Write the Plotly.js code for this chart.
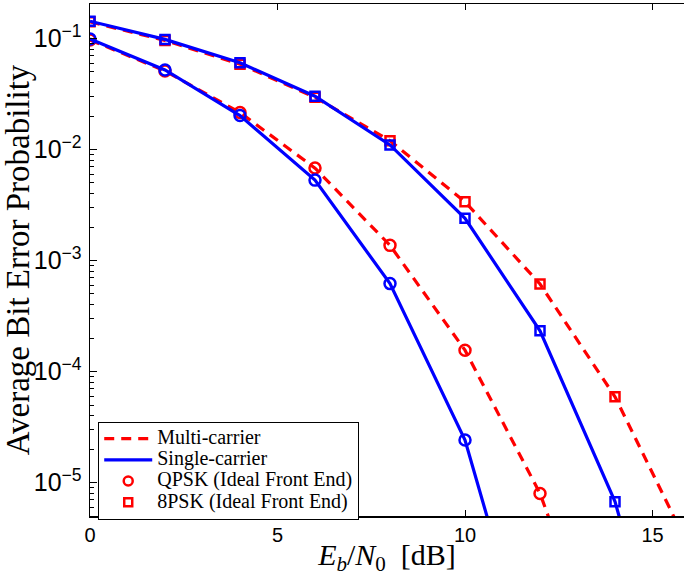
<!DOCTYPE html>
<html>
<head>
<meta charset="utf-8">
<script src="https://cdn.plot.ly/plotly-3.0.1.min.js"></script>
<style>html,body{margin:0;padding:0;background:#fff;}#chart{width:684px;height:576px;}</style>
</head>
<body>
<div id="chart"></div>
<script>
// Eb/N0 in dB
const ebn0 = [0, 2, 4, 6, 8, 10, 12, 14, 16];

// QPSK
const qpskSingle = [0.099, 0.052, 0.0202, 0.0053, 0.00062, 2.42e-5, 1.1e-7];
const qpskMulti  = [0.097, 0.051, 0.0215, 0.0068, 0.00137, 1.56e-4, 8.0e-6, 1.1e-7];
// 8PSK
const psk8Single = [0.143, 0.098, 0.0603, 0.0302, 0.0110, 0.0024, 2.33e-4, 6.75e-6, 2.7e-8];
const psk8Multi  = [0.141, 0.096, 0.0587, 0.0295, 0.0120, 0.00338, 6.15e-4, 5.94e-5, 2.5e-6];

const legendNames = ['Multi-carrier', 'Single-carrier', 'QPSK (Ideal Front End)', '8PSK (Ideal Front End)'];

const RED = '#ff0000', BLUE = '#0000ff';
const lw = 3.2;
const redDash = '10px,7px';
const serif = 'Liberation Serif';

function xs(arr){ return ebn0.slice(0, arr.length); }
function big(t){ return '<span style="font-size:20px">' + t + '</span>'; }

const traces = [
  {x: xs(psk8Multi), y: psk8Multi, mode: 'lines+markers', showlegend: false,
   line: {color: RED, width: lw, dash: redDash},
   marker: {symbol: 'square-open', size: 9, color: RED, line: {width: 2.5, color: RED}}},
  {x: xs(qpskMulti), y: qpskMulti, mode: 'lines+markers', showlegend: false,
   line: {color: RED, width: lw, dash: redDash},
   marker: {symbol: 'circle-open', size: 11, color: RED, line: {width: 2.5, color: RED}}},
  {x: xs(psk8Single), y: psk8Single, mode: 'lines+markers', showlegend: false,
   line: {color: BLUE, width: lw},
   marker: {symbol: 'square-open', size: 9, color: BLUE, line: {width: 2.5, color: BLUE}}},
  {x: xs(qpskSingle), y: qpskSingle, mode: 'lines+markers', showlegend: false,
   line: {color: BLUE, width: lw},
   marker: {symbol: 'circle-open', size: 11, color: BLUE, line: {width: 2.5, color: BLUE}}},
  // legend-only entries
  {x: [null], y: [null], mode: 'lines', name: big(legendNames[0]), line: {color: RED, width: lw, dash: redDash}},
  {x: [null], y: [null], mode: 'lines', name: big(legendNames[1]), line: {color: BLUE, width: lw}},
  {x: [null], y: [null], mode: 'markers', name: big(legendNames[2]),
   marker: {symbol: 'circle-open', size: 9, color: RED, line: {width: 2.5, color: RED}}},
  {x: [null], y: [null], mode: 'markers', name: big(legendNames[3]),
   marker: {symbol: 'square-open', size: 8, color: RED, line: {width: 2.5, color: RED}}}
];

const tickFont = {family: 'Liberation Sans', size: 20, color: '#000'};

const layout = {
  width: 684, height: 576,
  margin: {l: 90, r: 0, t: 4, b: 60},
  paper_bgcolor: '#fff', plot_bgcolor: '#fff',
  showlegend: true,
  xaxis: {
    range: [0, 15.84], tickmode: 'array', tickvals: [0, 5, 10, 15], ticktext: ['0', '5', '10', '15'],
    ticks: 'inside', ticklen: 6, tickcolor: '#000', tickwidth: 1,
    showline: true, linecolor: '#000', linewidth: 1.5, mirror: 'ticks',
    showgrid: false, zeroline: false, tickfont: tickFont,
    title: {text: '<i>E<sub>b</sub></i>/<i>N</i><sub>0</sub>  [dB]', font: {family: serif, size: 30, color: '#000'}, standoff: 2}
  },
  yaxis: {
    type: 'log', range: [-5.3, -0.69], dtick: 1, exponentformat: 'power',
    ticks: 'inside', ticklen: 7, tickcolor: '#000', tickwidth: 1,
    minor: {ticks: 'inside', ticklen: 4, dtick: 'D1', tickcolor: '#000', showgrid: false},
    showline: true, linecolor: '#000', linewidth: 1.5, mirror: false,
    showgrid: false, zeroline: false, tickfont: tickFont, ticklabelstandoff: 3,
    title: {text: 'Average Bit Error Probability', font: {family: serif, size: 33, color: '#000'}, standoff: 3}
  },
  legend: {
    x: 0.0135, y: 0.184, xanchor: 'left', yanchor: 'top',
    bgcolor: '#fff', bordercolor: '#000', borderwidth: 1.2,
    font: {family: serif, size: 14, color: '#000'},
    itemwidth: 48, tracegroupgap: 0
  }
};

Plotly.newPlot('chart', traces, layout, {displayModeBar: false, staticPlot: true});
</script>
</body>
</html>
